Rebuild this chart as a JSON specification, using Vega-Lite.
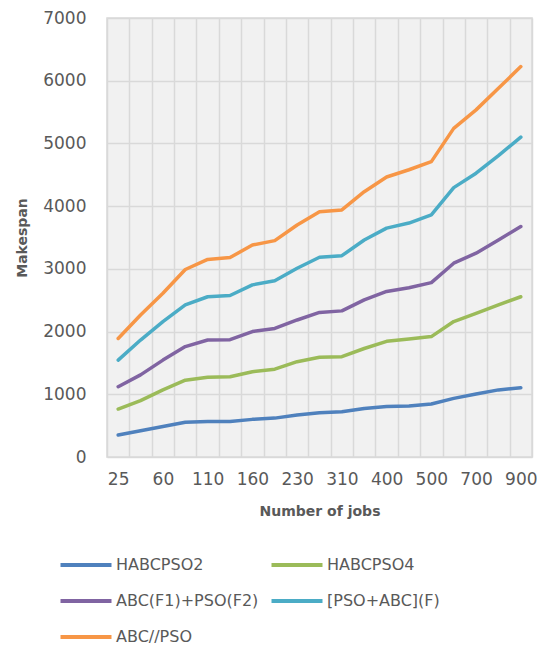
{
  "$schema": "https://vega.github.io/schema/vega-lite/v6.json",
  "width": 425,
  "height": 439,
  "autosize": {"type": "none"},
  "padding": {"left": 107, "top": 18, "right": 5, "bottom": 193},
  "background": "white",
  "config": {
    "font": "DejaVu Sans",
    "view": {"fill": "#f1f1f1", "stroke": "#d9d9d9", "strokeWidth": 1.5}
  },
  "data": {
    "values": [
      {"jobs": "25", "alg": "HABCPSO2", "makespan": 350},
      {"jobs": "40", "alg": "HABCPSO2", "makespan": 420},
      {"jobs": "60", "alg": "HABCPSO2", "makespan": 485},
      {"jobs": "80", "alg": "HABCPSO2", "makespan": 555},
      {"jobs": "110", "alg": "HABCPSO2", "makespan": 565},
      {"jobs": "130", "alg": "HABCPSO2", "makespan": 565},
      {"jobs": "160", "alg": "HABCPSO2", "makespan": 600},
      {"jobs": "200", "alg": "HABCPSO2", "makespan": 620},
      {"jobs": "230", "alg": "HABCPSO2", "makespan": 670},
      {"jobs": "270", "alg": "HABCPSO2", "makespan": 705},
      {"jobs": "310", "alg": "HABCPSO2", "makespan": 720},
      {"jobs": "350", "alg": "HABCPSO2", "makespan": 775},
      {"jobs": "400", "alg": "HABCPSO2", "makespan": 805},
      {"jobs": "450", "alg": "HABCPSO2", "makespan": 815},
      {"jobs": "500", "alg": "HABCPSO2", "makespan": 845},
      {"jobs": "600", "alg": "HABCPSO2", "makespan": 935},
      {"jobs": "700", "alg": "HABCPSO2", "makespan": 1005},
      {"jobs": "800", "alg": "HABCPSO2", "makespan": 1070},
      {"jobs": "900", "alg": "HABCPSO2", "makespan": 1105},
      {"jobs": "25", "alg": "HABCPSO4", "makespan": 765},
      {"jobs": "40", "alg": "HABCPSO4", "makespan": 900},
      {"jobs": "60", "alg": "HABCPSO4", "makespan": 1070},
      {"jobs": "80", "alg": "HABCPSO4", "makespan": 1225},
      {"jobs": "110", "alg": "HABCPSO4", "makespan": 1270},
      {"jobs": "130", "alg": "HABCPSO4", "makespan": 1280},
      {"jobs": "160", "alg": "HABCPSO4", "makespan": 1360},
      {"jobs": "200", "alg": "HABCPSO4", "makespan": 1400},
      {"jobs": "230", "alg": "HABCPSO4", "makespan": 1520},
      {"jobs": "270", "alg": "HABCPSO4", "makespan": 1590},
      {"jobs": "310", "alg": "HABCPSO4", "makespan": 1600},
      {"jobs": "350", "alg": "HABCPSO4", "makespan": 1730},
      {"jobs": "400", "alg": "HABCPSO4", "makespan": 1845},
      {"jobs": "450", "alg": "HABCPSO4", "makespan": 1880},
      {"jobs": "500", "alg": "HABCPSO4", "makespan": 1920},
      {"jobs": "600", "alg": "HABCPSO4", "makespan": 2160},
      {"jobs": "700", "alg": "HABCPSO4", "makespan": 2290},
      {"jobs": "800", "alg": "HABCPSO4", "makespan": 2425},
      {"jobs": "900", "alg": "HABCPSO4", "makespan": 2555},
      {"jobs": "25", "alg": "ABC(F1)+PSO(F2)", "makespan": 1120},
      {"jobs": "40", "alg": "ABC(F1)+PSO(F2)", "makespan": 1310},
      {"jobs": "60", "alg": "ABC(F1)+PSO(F2)", "makespan": 1545},
      {"jobs": "80", "alg": "ABC(F1)+PSO(F2)", "makespan": 1760},
      {"jobs": "110", "alg": "ABC(F1)+PSO(F2)", "makespan": 1865},
      {"jobs": "130", "alg": "ABC(F1)+PSO(F2)", "makespan": 1870},
      {"jobs": "160", "alg": "ABC(F1)+PSO(F2)", "makespan": 2000},
      {"jobs": "200", "alg": "ABC(F1)+PSO(F2)", "makespan": 2050},
      {"jobs": "230", "alg": "ABC(F1)+PSO(F2)", "makespan": 2185},
      {"jobs": "270", "alg": "ABC(F1)+PSO(F2)", "makespan": 2305},
      {"jobs": "310", "alg": "ABC(F1)+PSO(F2)", "makespan": 2330},
      {"jobs": "350", "alg": "ABC(F1)+PSO(F2)", "makespan": 2505},
      {"jobs": "400", "alg": "ABC(F1)+PSO(F2)", "makespan": 2640},
      {"jobs": "450", "alg": "ABC(F1)+PSO(F2)", "makespan": 2700},
      {"jobs": "500", "alg": "ABC(F1)+PSO(F2)", "makespan": 2780},
      {"jobs": "600", "alg": "ABC(F1)+PSO(F2)", "makespan": 3090},
      {"jobs": "700", "alg": "ABC(F1)+PSO(F2)", "makespan": 3250},
      {"jobs": "800", "alg": "ABC(F1)+PSO(F2)", "makespan": 3460},
      {"jobs": "900", "alg": "ABC(F1)+PSO(F2)", "makespan": 3675},
      {"jobs": "25", "alg": "[PSO+ABC](F)", "makespan": 1545},
      {"jobs": "40", "alg": "[PSO+ABC](F)", "makespan": 1865},
      {"jobs": "60", "alg": "[PSO+ABC](F)", "makespan": 2160},
      {"jobs": "80", "alg": "[PSO+ABC](F)", "makespan": 2425},
      {"jobs": "110", "alg": "[PSO+ABC](F)", "makespan": 2555},
      {"jobs": "130", "alg": "[PSO+ABC](F)", "makespan": 2575},
      {"jobs": "160", "alg": "[PSO+ABC](F)", "makespan": 2745},
      {"jobs": "200", "alg": "[PSO+ABC](F)", "makespan": 2810},
      {"jobs": "230", "alg": "[PSO+ABC](F)", "makespan": 3010},
      {"jobs": "270", "alg": "[PSO+ABC](F)", "makespan": 3185},
      {"jobs": "310", "alg": "[PSO+ABC](F)", "makespan": 3210},
      {"jobs": "350", "alg": "[PSO+ABC](F)", "makespan": 3460},
      {"jobs": "400", "alg": "[PSO+ABC](F)", "makespan": 3650},
      {"jobs": "450", "alg": "[PSO+ABC](F)", "makespan": 3730},
      {"jobs": "500", "alg": "[PSO+ABC](F)", "makespan": 3860},
      {"jobs": "600", "alg": "[PSO+ABC](F)", "makespan": 4295},
      {"jobs": "700", "alg": "[PSO+ABC](F)", "makespan": 4525},
      {"jobs": "800", "alg": "[PSO+ABC](F)", "makespan": 4805},
      {"jobs": "900", "alg": "[PSO+ABC](F)", "makespan": 5100},
      {"jobs": "25", "alg": "ABC//PSO", "makespan": 1890},
      {"jobs": "40", "alg": "ABC//PSO", "makespan": 2265},
      {"jobs": "60", "alg": "ABC//PSO", "makespan": 2610},
      {"jobs": "80", "alg": "ABC//PSO", "makespan": 2990},
      {"jobs": "110", "alg": "ABC//PSO", "makespan": 3150},
      {"jobs": "130", "alg": "ABC//PSO", "makespan": 3180},
      {"jobs": "160", "alg": "ABC//PSO", "makespan": 3380},
      {"jobs": "200", "alg": "ABC//PSO", "makespan": 3450},
      {"jobs": "230", "alg": "ABC//PSO", "makespan": 3700},
      {"jobs": "270", "alg": "ABC//PSO", "makespan": 3910},
      {"jobs": "310", "alg": "ABC//PSO", "makespan": 3940},
      {"jobs": "350", "alg": "ABC//PSO", "makespan": 4230},
      {"jobs": "400", "alg": "ABC//PSO", "makespan": 4465},
      {"jobs": "450", "alg": "ABC//PSO", "makespan": 4580},
      {"jobs": "500", "alg": "ABC//PSO", "makespan": 4710},
      {"jobs": "600", "alg": "ABC//PSO", "makespan": 5240},
      {"jobs": "700", "alg": "ABC//PSO", "makespan": 5535},
      {"jobs": "800", "alg": "ABC//PSO", "makespan": 5880},
      {"jobs": "900", "alg": "ABC//PSO", "makespan": 6225}
    ]
  },
  "mark": {"type": "line", "strokeWidth": 3.5, "strokeCap": "round", "strokeJoin": "round"},
  "encoding": {
    "x": {
      "field": "jobs",
      "type": "ordinal",
      "sort": ["25", "40", "60", "80", "110", "130", "160", "200", "230", "270", "310", "350", "400", "450", "500", "600", "700", "800", "900"],
      "bandPosition": 0.5,
      "scale": {"type": "band", "paddingInner": 0, "paddingOuter": 0},
      "axis": {
        "title": "Number of jobs",
        "labelExpr": "indexof(['25','60','110','160','230','310','400','500','700','900'], datum.value) >= 0 ? datum.label : ''",
        "labelAngle": 0,
        "tickBand": "extent",
        "ticks": false,
        "domain": false,
        "grid": true,
        "gridColor": "#d9d9d9",
        "gridWidth": 1.5,
        "labelFontSize": 17,
        "labelColor": "#595959",
        "labelPadding": 14,
        "labelOverlap": false,
        "titleFontSize": 14,
        "titleFontWeight": "bold",
        "titleColor": "#595959",
        "titlePadding": 17
      }
    },
    "y": {
      "field": "makespan",
      "type": "quantitative",
      "scale": {"domain": [0, 7000]},
      "axis": {
        "values": [0, 1000, 2000, 3000, 4000, 5000, 6000, 7000],
        "format": "d",
        "title": "Makespan",
        "ticks": false,
        "domain": false,
        "gridColor": "#d9d9d9",
        "gridWidth": 1.5,
        "labelFontSize": 17,
        "labelColor": "#595959",
        "labelPadding": 21,
        "titleFontSize": 14,
        "titleFontWeight": "bold",
        "titleColor": "#595959",
        "titlePadding": 13
      }
    },
    "color": {
      "field": "alg",
      "type": "nominal",
      "scale": {
        "domain": ["HABCPSO2", "HABCPSO4", "ABC(F1)+PSO(F2)", "[PSO+ABC](F)", "ABC//PSO"],
        "range": ["#4F81BD", "#9BBB59", "#8064A2", "#4BACC6", "#F79646"]
      },
      "legend": {
        "title": null,
        "orient": "none",
        "direction": "horizontal",
        "legendX": -36,
        "legendY": 532,
        "columns": 2,
        "symbolType": "M-2,0H2",
        "symbolSize": 650,
        "symbolStrokeWidth": 4,
        "symbolStrokeCap": "round",
        "labelOffset": 15,
        "labelFontSize": 16,
        "labelColor": "#595959",
        "columnPadding": 4,
        "rowPadding": 13
      }
    }
  }
}
